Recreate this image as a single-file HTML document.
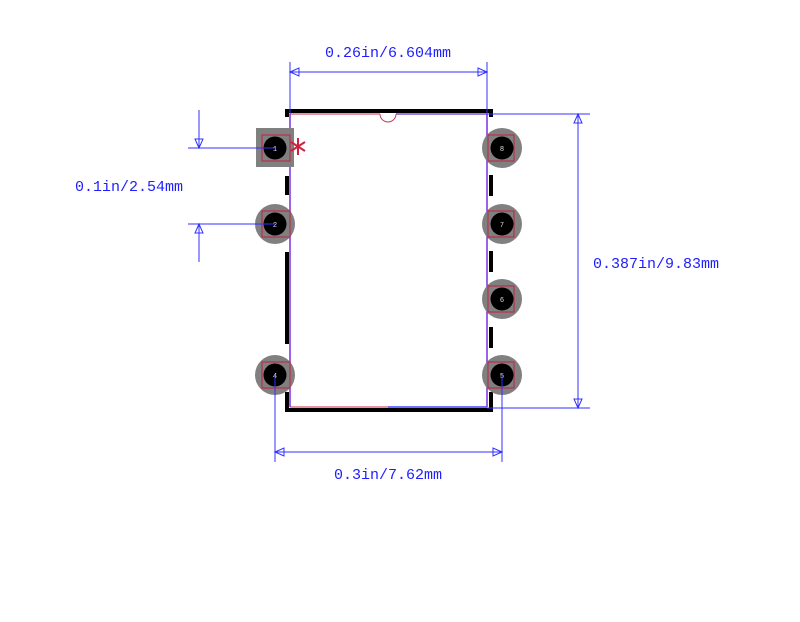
<!DOCTYPE html>
<html><head><style>html,body{margin:0;padding:0;background:#fff;width:800px;height:622px;overflow:hidden}</style></head>
<body>
<svg width="800" height="622" xmlns="http://www.w3.org/2000/svg" font-family="Liberation Mono, monospace">
<g stroke="#000" stroke-width="4" fill="none">
<path d="M287 117 V111 H491 V117"/>
<path d="M287 404 V410 H491 V404"/>
<line x1="287" y1="176" x2="287" y2="195"/>
<line x1="287" y1="252" x2="287" y2="344"/>
<line x1="287" y1="392" x2="287" y2="404"/>
<line x1="491" y1="175" x2="491" y2="196"/>
<line x1="491" y1="251" x2="491" y2="272"/>
<line x1="491" y1="327" x2="491" y2="348"/>
<line x1="491" y1="392" x2="491" y2="404"/>
</g>
<line x1="290" y1="114" x2="380" y2="114" stroke="#e07080" stroke-width="1.5"/>
<line x1="396" y1="114" x2="487" y2="114" stroke="#7a50d0" stroke-width="1.5"/>
<path d="M380 114 A8 8 0 0 0 396 114" stroke="#c04060" fill="none" stroke-width="1"/>
<line x1="290" y1="407" x2="388" y2="407" stroke="#e07080" stroke-width="1.5"/>
<line x1="388" y1="407" x2="487" y2="407" stroke="#4040ff" stroke-width="1.5"/>
<line x1="290" y1="114" x2="290" y2="407" stroke="#7a30e0" stroke-width="1.5"/>
<line x1="487" y1="114" x2="487" y2="407" stroke="#7a30e0" stroke-width="1.5"/>
<rect x="256" y="128" width="38" height="39" fill="#808080"/>
<g fill="#808080">
<circle cx="275" cy="224" r="20"/><circle cx="275" cy="375" r="20"/>
<circle cx="502" cy="148" r="20"/><circle cx="502" cy="224" r="20"/>
<circle cx="502" cy="299" r="20"/><circle cx="502" cy="375" r="20"/>
</g>
<g fill="#000">
<circle cx="275" cy="148" r="11.5"/><circle cx="275" cy="224" r="11.5"/><circle cx="275" cy="375" r="11.5"/>
<circle cx="502" cy="148" r="11.5"/><circle cx="502" cy="224" r="11.5"/>
<circle cx="502" cy="299" r="11.5"/><circle cx="502" cy="375" r="11.5"/>
</g>
<g fill="none" stroke="#c02040" stroke-width="1">
<rect x="262" y="135" width="28" height="26"/><rect x="262" y="211" width="28" height="26"/><rect x="262" y="362" width="28" height="26"/>
<rect x="488" y="135" width="26" height="26"/><rect x="488" y="211" width="26" height="26"/>
<rect x="488" y="286" width="26" height="26"/><rect x="488" y="362" width="26" height="26"/>
</g>
<g fill="#ddd" font-size="7" text-anchor="middle">
<text x="275" y="151">1</text><text x="275" y="227">2</text><text x="275" y="378">4</text>
<text x="502" y="151">8</text><text x="502" y="227">7</text><text x="502" y="302">6</text><text x="502" y="378">5</text>
</g>
<g stroke="#d02040" stroke-width="2">
<line x1="298" y1="138" x2="298" y2="155"/>
<line x1="291" y1="142" x2="305" y2="151"/>
<line x1="305" y1="142" x2="291" y2="151"/>
</g>
<g stroke="#3030ff" stroke-width="1" fill="none">
<line x1="290" y1="62" x2="290" y2="114"/><line x1="487" y1="62" x2="487" y2="114"/>
<line x1="290" y1="72" x2="487" y2="72"/>
<path d="M290 72 l9 -4 v8 z M487 72 l-9 -4 v8 z"/>
<line x1="487" y1="114" x2="590" y2="114"/><line x1="487" y1="408" x2="590" y2="408"/>
<line x1="578" y1="114" x2="578" y2="408"/>
<path d="M578 114 l-4 9 h8 z M578 408 l-4 -9 h8 z"/>
<line x1="275" y1="375" x2="275" y2="462"/><line x1="502" y1="375" x2="502" y2="462"/>
<line x1="275" y1="452" x2="502" y2="452"/>
<path d="M275 452 l9 -4 v8 z M502 452 l-9 -4 v8 z"/>
<line x1="188" y1="148" x2="275" y2="148"/><line x1="188" y1="224" x2="275" y2="224"/>
<line x1="199" y1="110" x2="199" y2="148"/><line x1="199" y1="224" x2="199" y2="262"/>
<path d="M199 148 l-4 -9 h8 z M199 224 l-4 9 h8 z"/>
</g>
<g fill="#2020ff" font-size="15">
<text x="388" y="57" text-anchor="middle">0.26in/6.604mm</text>
<text x="593" y="268">0.387in/9.83mm</text>
<text x="388" y="479" text-anchor="middle">0.3in/7.62mm</text>
<text x="75" y="191">0.1in/2.54mm</text>
</g>
</svg>
</body></html>
